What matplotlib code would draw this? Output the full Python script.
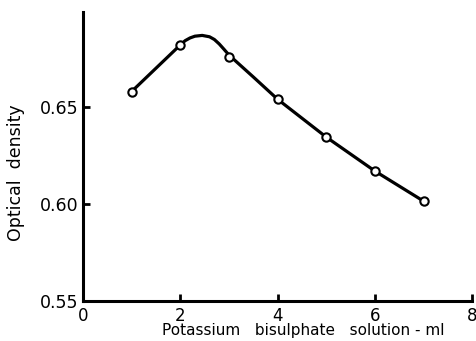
import matplotlib
matplotlib.use("Agg")
import matplotlib.pyplot as plt

# measured points
volume_ml = [1, 2, 3, 4, 5, 6, 7]
optical_density = [0.658, 0.682, 0.676, 0.654, 0.6345, 0.617, 0.6015]

# hand-drawn smooth curve
curve_x = [1, 1.5, 2, 2.1, 2.2, 2.3, 2.45, 2.6, 2.7, 2.8, 2.9, 3, 3.5, 4, 5, 6, 7]
curve_y = [0.658, 0.670, 0.682, 0.6842, 0.6856, 0.6865, 0.6869, 0.6862, 0.6848, 0.6825,
           0.6797, 0.6768, 0.6655, 0.654, 0.6345, 0.617, 0.6015]

x_ticks = [0, 2, 4, 6, 8]
y_ticks = [0.55, 0.60, 0.65]
y_tick_labels = ["0.55", "0.60", "0.65"]


def main():
    plt.rcParams['font.family'] = ['DejaVu Sans']
    fig = plt.figure(figsize=(4.77, 3.41), dpi=100)
    ax = fig.add_axes([0.174, 0.117, 0.816, 0.848])

    ax.plot(curve_x, curve_y, color='black', linewidth=2.3, solid_capstyle='round')
    ax.plot(volume_ml, optical_density, linestyle='none', marker='o', markersize=6,
            markerfacecolor='white', markeredgecolor='black', markeredgewidth=1.5)

    ax.set_xlim(0, 8)
    ax.set_ylim(0.55, 0.699)
    ax.set_xticks(x_ticks)
    ax.set_yticks(y_ticks)
    ax.set_yticklabels(y_tick_labels)

    for side in ('top', 'right'):
        ax.spines[side].set_visible(False)
    for side in ('left', 'bottom'):
        ax.spines[side].set_linewidth(2.2)

    ax.tick_params(direction='in', length=5, width=2, labelsize=12.5)
    ax.tick_params(axis='x', labelsize=12, pad=4)
    ax.tick_params(axis='y', pad=3)

    ax.set_xlabel('Potassium   bisulphate   solution - ml', fontsize=11)
    ax.xaxis.set_label_coords(0.565, -0.077)
    ax.set_ylabel('Optical  density', fontsize=12.5)
    ax.yaxis.set_label_coords(-0.15, 0.443)

    fig.savefig('out.png', dpi=100)


if __name__ == '__main__':
    main()
